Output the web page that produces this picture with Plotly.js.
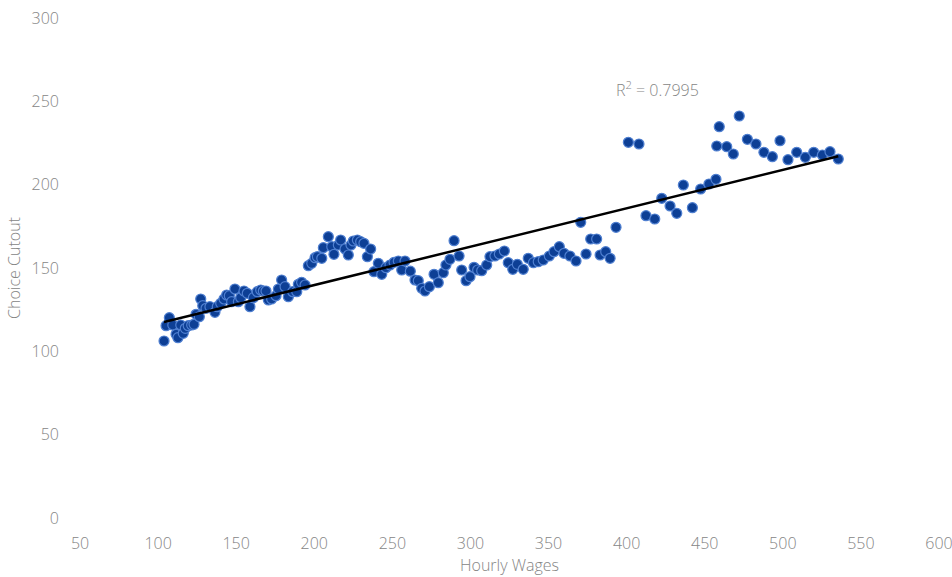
<!DOCTYPE html>
<html>
<head>
<meta charset="utf-8">
<script src="https://cdn.plot.ly/plotly-3.0.1.min.js"></script>
<style>html,body{margin:0;padding:0;background:#fff;}#chart{width:952px;height:577px;}</style>
</head>
<body>
<div id="chart"></div>
<script>
const hourlyWages = [103.8,105.1,107.2,109.4,111.5,112.7,114.5,116.1,117.4,119.3,121.5,123.0,124.3,126.4,127.3,128.6,130.7,133.2,136.4,137.9,140.1,142.2,143.9,145.6,147.1,149.2,151.4,152.9,155.0,157.1,158.8,161.0,163.5,165.7,167.4,169.1,170.6,172.7,175.5,177.0,179.1,
181.3,183.4,186.2,188.8,189.8,191.9,194.1,196.2,198.4,200.5,202.0,204.8,205.8,209.0,211.2,212.6,215.4,216.9,219.7,221.8,223.5,225.0,227.6,229.7,231.8,234.0,236.1,238.2,241.0,243.2,245.9,248.5,251.1,253.8,256.0,258.1,261.5,
264.5,266.6,268.8,270.9,273.7,276.7,279.4,282.6,284.3,286.9,289.5,292.7,294.4,297.2,299.7,302.3,304.6,307.2,310.4,312.5,315.7,318.5,321.7,324.2,327.1,330.0,333.8,337.0,340.3,343.4,
346.6,350.5,353.5,356.9,359.9,363.7,367.6,370.6,374.0,377.0,380.8,383.0,386.6,389.4,393.2,401.1,407.9,412.4,418.0,
422.5,427.8,432.1,436.3,442.1,447.4,452.7,457.2,457.7,459.3,464.1,468.3,472.1,477.3,482.8,487.9,493.3,498.2,503.3,508.9,514.4,519.8,525.3,530.2,535.5];

const choiceCutout = [106.2,115.4,120.2,115.8,110.2,108.2,115.8,110.8,113.8,115.4,115.8,116.2,122.2,120.8,131.4,127.4,125.8,126.8,123.4,126.8,128.8,131.4,133.8,133.4,129.8,137.4,129.8,132.2,136.2,134.8,126.8,132.2,135.8,136.8,136.2,136.2,130.8,131.4,133.4,137.4,142.8,
138.8,132.8,135.8,135.8,140.2,141.4,139.8,151.4,152.8,156.2,156.8,155.8,162.2,168.8,162.8,158.2,163.8,166.8,161.4,157.8,163.8,166.2,166.8,165.8,164.8,156.8,161.4,147.8,152.8,146.2,150.2,151.8,153.4,154.2,148.8,154.2,148.1,
142.8,142.4,137.8,136.2,138.8,146.2,141.2,147.2,151.8,155.2,166.4,157.2,148.8,142.4,144.8,150.4,148.8,148.4,151.8,156.8,157.2,158.4,160.2,153.2,149.2,152.2,149.2,155.8,153.2,153.8,
154.8,157.2,159.8,162.8,158.8,157.2,154.2,177.4,158.4,167.4,167.4,157.8,159.8,155.8,174.4,225.4,224.4,181.4,179.4,
191.8,187.2,182.8,199.8,186.2,197.4,200.4,203.2,223.2,234.8,222.8,218.4,241.2,227.2,224.4,219.4,216.8,226.4,215.0,219.4,216.4,219.4,217.8,219.8,215.4];

const xTicks = [50,100,150,200,250,300,350,400,450,500,550,600];
const yTicks = [0,50,100,150,200,250,300];
const rSquaredLabel = "R<sup>2</sup> = 0.7995";

// least-squares trend line from the data
const n = hourlyWages.length;
const mx = hourlyWages.reduce((a,b)=>a+b,0)/n;
const my = choiceCutout.reduce((a,b)=>a+b,0)/n;
let sxy=0, sxx=0;
for (let i=0;i<n;i++){ sxy += (hourlyWages[i]-mx)*(choiceCutout[i]-my); sxx += (hourlyWages[i]-mx)**2; }
const slope = sxy/sxx, intercept = my - slope*mx;
const xMin = Math.min(...hourlyWages), xMax = Math.max(...hourlyWages);
const trendX = [xMin, xMax];
const trendY = trendX.map(v => intercept + slope*v);

const font = {family: "Open Sans, sans-serif", size: 16, color: "#858585", weight: 300};

const data = [
  {
    x: hourlyWages, y: choiceCutout, type: "scatter", mode: "markers",
    marker: {size: 10, color: "#0d3f95", line: {color: "#4f7fd0", width: 1.2}},
    hoverinfo: "x+y", showlegend: false
  },
  {
    x: trendX, y: trendY, type: "scatter", mode: "lines",
    line: {color: "#000000", width: 2.5}, showlegend: false, hoverinfo: "skip"
  }
];

const layout = {
  width: 952, height: 577,
  margin: {l: 80, r: 13, t: 18, b: 59},
  paper_bgcolor: "#ffffff", plot_bgcolor: "#ffffff",
  font: font,
  xaxis: {
    range: [50, 600], tickvals: xTicks, ticktext: xTicks.map(String),
    showgrid: false, zeroline: false, showline: false, ticks: "",
    tickfont: font, ticklabelstandoff: 14, ticklabeloverflow: "allow",
    title: {text: "Hourly Wages", font: font, standoff: 2}
  },
  yaxis: {
    range: [0, 300], tickvals: yTicks, ticktext: yTicks.map(String),
    showgrid: false, zeroline: false, showline: false, ticks: "",
    tickfont: font, ticklabelstandoff: 20, ticklabeloverflow: "allow",
    title: {text: "Choice Cutout", font: font, standoff: 6}
  },
  annotations: [{
    x: 420, y: 257.5, xref: "x", yref: "y", text: rSquaredLabel,
    showarrow: false, font: font
  }]
};

Plotly.newPlot("chart", data, layout, {staticPlot: true, displayModeBar: false});
</script>
</body>
</html>
